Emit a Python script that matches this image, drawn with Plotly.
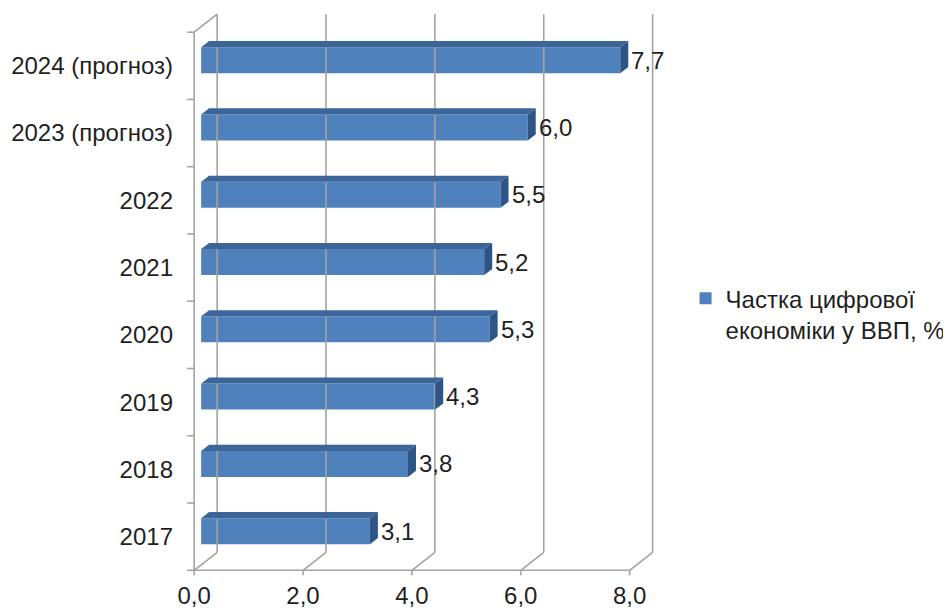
import plotly.graph_objects as go

# ---- data ----
categories = ["2017", "2018", "2019", "2020", "2021", "2022",
              "2023 (прогноз)", "2024 (прогноз)"]
values = [3.1, 3.8, 4.3, 5.3, 5.2, 5.5, 6.0, 7.7]
x_ticks = [0, 2, 4, 6, 8]
series_name = "Частка цифрової<br>економіки у ВВП, %"

# ---- geometry (pixels per unit, 3D offsets) ----
PX_X = 54.5
PX_Y = 67.25
DX = 23 / PX_X      # depth offset of back wall
DY = 18 / PX_Y
BX = 7 / PX_X       # bar front-face offset
BY = 5.5 / PX_Y
SX = 8 / PX_X       # bar depth
SY = 6.2 / PX_Y
BAR_H = 26 / PX_Y

W, H = 951, 610
OX, OY = 186, 562   # pixel position of data origin (front plane)
XR = [-0.15, 8.65]
YR = [-0.1, 8.3]
L = OX + XR[0] * PX_X
plot_w = (XR[1] - XR[0]) * PX_X
B = H - (OY - YR[0] * PX_Y)
plot_h = (YR[1] - YR[0]) * PX_Y
T = H - B - plot_h
R = W - L - plot_w

FRONT = "#4F81BD"
TOP = "#3C6599"
SIDE = "#2F5586"
GRID = "#A3A3A3"
FONT = "Liberation Sans, Arial, sans-serif"
TXT = "#1f1f1f"
n = len(categories)
ymax = n

fig = go.Figure()

# ---- walls / floor / grid ----
gx, gy = [], []
def seg(x0, y0, x1, y1):
    gx.extend([x0, x1, None]); gy.extend([y0, y1, None])

for k in x_ticks:
    seg(k + DX, DY, k + DX, ymax + DY)      # back wall verticals
    seg(k, 0, k + DX, DY)                  # floor diagonals
    seg(k, 0, k, -5 / PX_Y)                # x ticks
seg(x_ticks[0], 0, x_ticks[-1], 0)         # front floor edge
seg(0, 0, 0, ymax)                         # left axis
seg(0, ymax, DX, ymax + DY)                # left wall top edge
for j in range(n + 1):
    seg(0, j, -7 / PX_X, j)                # y ticks

fig.add_trace(go.Scatter(x=gx, y=gy, mode="lines",
                         line=dict(color=GRID, width=1.6),
                         hoverinfo="skip", showlegend=False, cliponaxis=False))

# ---- bars: front faces ----
fig.add_trace(go.Bar(
    orientation="h", x=values, base=BX,
    y=[i + 0.5 + BY for i in range(n)], width=BAR_H,
    marker=dict(color=FRONT, line=dict(width=0)),
    name=series_name, showlegend=True, hoverinfo="skip"))

# ---- bars: top and side faces ----
for i, v in enumerate(values):
    c = i + 0.5 + BY
    top = c + BAR_H / 2
    bot = c - BAR_H / 2
    x0 = BX
    x1 = v + BX
    fig.add_trace(go.Scatter(
        x=[x0, x1, x1 + SX, x0 + SX, x0],
        y=[top, top, top + SY, top + SY, top],
        fill="toself", fillcolor=TOP, mode="lines",
        line=dict(width=0, color=TOP), hoverinfo="skip", showlegend=False))
    fig.add_trace(go.Scatter(
        x=[x1, x1, x1 + SX, x1 + SX, x1],
        y=[bot, top, top + SY, bot + SY, bot],
        fill="toself", fillcolor=SIDE, mode="lines",
        line=dict(width=0, color=SIDE), hoverinfo="skip", showlegend=False))
    fig.add_annotation(
        x=x1 + SX, y=c, xref="x", yref="y", xanchor="left", yanchor="middle",
        text=f"{v:.1f}".replace(".", ","), showarrow=False, xshift=1,
        font=dict(family=FONT, size=24, color=TXT))

leg_x = (678 - L) / plot_w
leg_y = (H - B - 268) / plot_h

fig.update_layout(
    width=W, height=H,
    margin=dict(l=L, r=R, t=T, b=B, autoexpand=False),
    paper_bgcolor="white", plot_bgcolor="white",
    separators=", ",
    font=dict(family=FONT, size=24, color=TXT),
    xaxis=dict(range=XR, tickmode="array", tickvals=x_ticks, tickformat=".1f",
               showgrid=False, zeroline=False, showline=False, ticks="",
               ticklabelstandoff=2, fixedrange=True),
    yaxis=dict(range=YR, tickmode="array",
               tickvals=[i + 0.5 for i in range(n)], ticktext=categories,
               showgrid=False, zeroline=False, showline=False, ticks="",
               ticklabelstandoff=12, fixedrange=True),
    legend=dict(x=leg_x, y=leg_y, xanchor="left", yanchor="top",
                valign="top", bgcolor="rgba(0,0,0,0)",
                font=dict(family=FONT, size=24, color=TXT)),
    showlegend=True,
)

fig.write_html("out.html")
